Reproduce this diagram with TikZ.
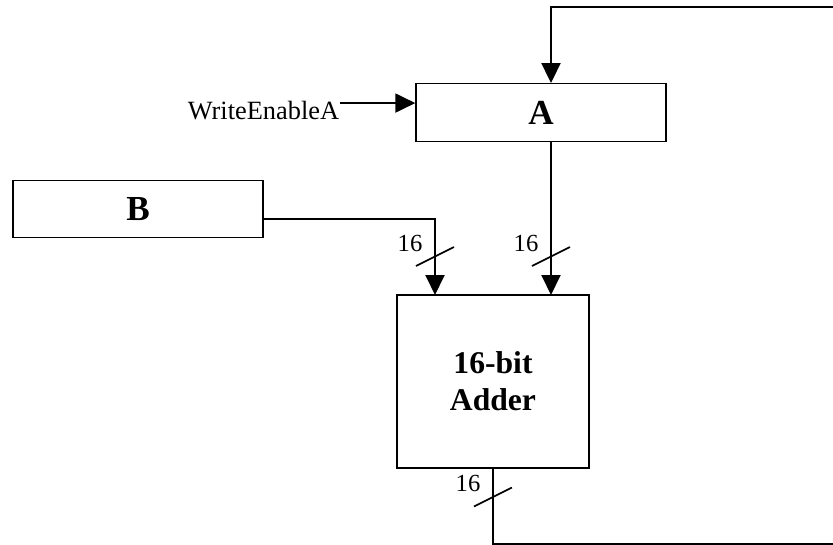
\documentclass[tikz,border=0pt]{standalone}
\usepackage{fontspec}
\setmainfont{Liberation Serif}
\usetikzlibrary{arrows.meta}                         %allows the filled triangle tips.

\begin{document}
\begin{tikzpicture}[x=0.02cm,y=-0.02cm,line width=1.1pt,>={Triangle[length=0.4cm,width=0.38cm]}]

% Define styles for the registers, the adder and the bus widths.
\tikzset{reg/.style={draw,line width=0.8pt,minimum width=5cm,minimum height=1.15cm,inner sep=0pt,font=\fontsize{20}{24}\selectfont\bfseries},
         adderbox/.style={draw,line width=0.8pt,minimum width=3.84cm,minimum height=3.46cm,align=center,font=\fontsize{18}{21}\selectfont\bfseries},
         bus/.style={inner sep=0pt,font=\fontsize{14}{16}\selectfont}}

% Fix the page size.
\useasboundingbox (0,0) rectangle (833,545);
\clip (0,0) rectangle (833,545);

% Registers and adder
\node[reg] (A) at (541,112.5) {A};
\node[reg] (B) at (138,209) {B};
\node[adderbox] (adder) at (493,381.5) {16-bit\\Adder};
\node[anchor=base east,inner sep=0pt,font=\fontsize{15}{18}\selectfont] (we) at (340,119) {WriteEnableA};

% Define coordinates.
\coordinate (inL) at (435,295);       %left adder input.
\coordinate (inR) at (551,295);       %right adder input.
\coordinate (fbtop) at (551,7);       %top corner of the feedback loop.

% Connections
\draw[->] ([yshift=0.14cm]we.east) -- ([yshift=0.14cm]we.east -| A.west);
\draw[->] ([yshift=-0.2cm]B.east) -| (inL);
\draw[->] (A.south -| inR) -- (inR);
\draw[->] (adder.south) |- (900,544) |- (fbtop) -- (A.north -| fbtop);

% Bus width marks
\foreach \x/\y/\n in {435/256.5/l,551/256.5/r,493/497/o}
  \draw[line width=0.9pt] (\x-19,\y+9.5) -- (\x+19,\y-9.5) node[bus] (bus\n) at (\x-25,\y-13.5) {16};

\end{tikzpicture}
\end{document}
